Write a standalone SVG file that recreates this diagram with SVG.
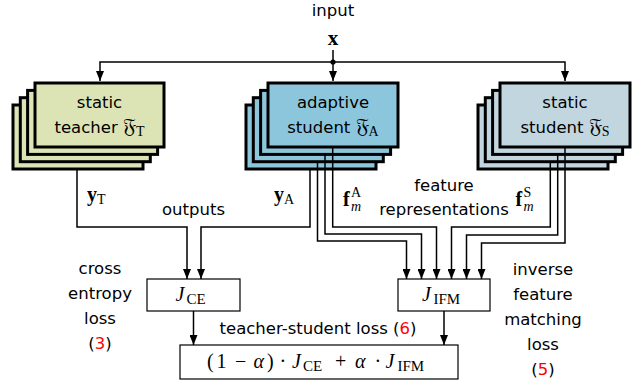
<svg xmlns="http://www.w3.org/2000/svg" width="637" height="388" viewBox="0 0 637 388">
<defs>
<style>
.t{font-family:"DejaVu Sans",sans-serif;font-size:16.5px;fill:#000}
.m{font-family:"Liberation Serif","DejaVu Serif",serif;fill:#000}
.b{font-weight:bold}
.n{font-weight:normal}
.i{font-style:italic}
.red{fill:#ff0000}
.stk{stroke:#000;stroke-width:3}
.teach{fill:#dce4b5}
.adap{fill:#8cc6dc}
.stat{fill:#c2d6df}
.loss{fill:#fff;stroke:#000;stroke-width:1.2}
.c{fill:none;stroke:#000;stroke-width:1.5}
</style>
<marker id="ah" markerUnits="userSpaceOnUse" markerWidth="10" markerHeight="8" refX="10" refY="4" orient="auto">
<path d="M0,0 L10,4 L0,8 z" fill="#000"/>
</marker>
</defs>
<rect width="637" height="388" fill="#fff"/>

<g id="input">
<text class="t" x="333" y="16" text-anchor="middle">input</text>
<text class="m b" x="333" y="45" font-size="21" text-anchor="middle">x</text>
</g>

<g id="teacher">
<rect class="stk teach" x="13" y="105" width="130" height="64"/>
<rect class="stk teach" x="20.3" y="97.7" width="130" height="64"/>
<rect class="stk teach" x="27.6" y="90.4" width="130" height="64"/>
<rect class="stk teach" x="35" y="83" width="129" height="64"/>
<text class="t" x="99.5" y="108" text-anchor="middle">static</text>
<text class="t" x="99.5" y="133" text-anchor="middle">teacher <tspan class="m" font-size="21">𝔉</tspan><tspan class="m" font-size="14" dy="3">T</tspan></text>
</g>

<g id="adaptive">
<rect class="stk adap" x="246" y="105" width="130" height="64"/>
<rect class="stk adap" x="253.3" y="97.7" width="130" height="64"/>
<rect class="stk adap" x="260.6" y="90.4" width="130" height="64"/>
<rect class="stk adap" x="268" y="83" width="130" height="64"/>
<text class="t" x="333" y="108" text-anchor="middle">adaptive</text>
<text class="t" x="333" y="133" text-anchor="middle">student <tspan class="m" font-size="21">𝔉</tspan><tspan class="m" font-size="14" dy="3">A</tspan></text>
</g>

<g id="static">
<rect class="stk stat" x="478" y="105" width="130" height="64"/>
<rect class="stk stat" x="485.3" y="97.7" width="130" height="64"/>
<rect class="stk stat" x="492.6" y="90.4" width="130" height="64"/>
<rect class="stk stat" x="500" y="83" width="130" height="64"/>
<text class="t" x="565" y="108" text-anchor="middle">static</text>
<text class="t" x="565" y="133" text-anchor="middle">student <tspan class="m" font-size="21">𝔉</tspan><tspan class="m" font-size="14" dy="3">S</tspan></text>
</g>

<g id="jce">
<rect class="loss" x="147" y="279" width="93" height="32"/>
<text class="m" y="301" font-size="20"><tspan class="i" x="175.5">J</tspan><tspan font-size="15" x="186.5" dy="3">CE</tspan></text>
</g>

<g id="jifm">
<rect class="loss" x="398" y="279" width="92" height="32"/>
<text class="m" y="301" font-size="20"><tspan class="i" x="422">J</tspan><tspan font-size="15" x="433.5" dy="3">IFM</tspan></text>
</g>

<g id="total">
<rect class="loss" x="180" y="345" width="278" height="34"/>
<text class="m" y="368" font-size="20"><tspan x="207">(</tspan><tspan x="216.5">1</tspan><tspan x="235">−</tspan><tspan class="i" x="253.5">α</tspan><tspan x="267">)</tspan><tspan x="279.5">·</tspan><tspan class="i" x="292">J</tspan><tspan font-size="15" x="303" dy="3">CE</tspan><tspan x="335" dy="-3">+</tspan><tspan class="i" x="355">α</tspan><tspan x="374.5">·</tspan><tspan class="i" x="385.5">J</tspan><tspan font-size="15" x="397.5" dy="3">IFM</tspan></text>
</g>

<g id="connectors">
<path class="c" d="M333,62 H100 V81" marker-end="url(#ah)"/>
<path class="c" d="M333,62 H565 V81" marker-end="url(#ah)"/>
<path class="c" d="M333,50 V81" marker-end="url(#ah)"/>
<circle cx="333" cy="62" r="2.6" fill="#000"/>
<path class="c" d="M77,169 V227 H187 V279" marker-end="url(#ah)"/>
<path class="c" d="M310,169 V227 H201 V279" marker-end="url(#ah)"/>
<path class="c" d="M317.5,162 V241 H406.5 V279" marker-end="url(#ah)"/>
<path class="c" d="M325,155 V234 H421.5 V279" marker-end="url(#ah)"/>
<path class="c" d="M332.7,148 V227 H436.5 V279" marker-end="url(#ah)"/>
<path class="c" d="M550.3,162 V227 H451.5 V279" marker-end="url(#ah)"/>
<path class="c" d="M557.7,155 V235 H466.5 V279" marker-end="url(#ah)"/>
<path class="c" d="M565,148 V243 H481.5 V279" marker-end="url(#ah)"/>
<path class="c" d="M193.5,311 V345" marker-end="url(#ah)"/>
<path class="c" d="M444,311 V345" marker-end="url(#ah)"/>
</g>

<g id="labels">
<text class="m b" x="87" y="201" font-size="20">y<tspan class="n" font-size="14" dy="3">T</tspan></text>
<text class="m b" x="274" y="201" font-size="20">y<tspan class="n" font-size="14" dy="3">A</tspan></text>
<text class="t" x="193.5" y="215" text-anchor="middle">outputs</text>
<text class="m b" x="343" y="206" font-size="20">f<tspan class="n" font-size="14" x="351" dy="-9">A</tspan><tspan class="n i" font-size="14" x="351" dy="14">m</tspan></text>
<text class="m b" x="515.5" y="206" font-size="20">f<tspan class="n" font-size="14" x="523.5" dy="-9">S</tspan><tspan class="n i" font-size="14" x="523.5" dy="14">m</tspan></text>
<text class="t" x="444" y="191" text-anchor="middle">feature</text>
<text class="t" x="444" y="215" text-anchor="middle">representations</text>
<text class="t" x="100" y="274" text-anchor="middle">cross</text>
<text class="t" x="100" y="299" text-anchor="middle">entropy</text>
<text class="t" x="100" y="324" text-anchor="middle">loss</text>
<text class="t" x="100" y="349" text-anchor="middle">(<tspan class="red">3</tspan>)</text>
<text class="t" x="543" y="275" text-anchor="middle">inverse</text>
<text class="t" x="543" y="300" text-anchor="middle">feature</text>
<text class="t" x="543" y="325" text-anchor="middle">matching</text>
<text class="t" x="543" y="350" text-anchor="middle">loss</text>
<text class="t" x="543" y="375" text-anchor="middle">(<tspan class="red">5</tspan>)</text>
<text class="t" x="318" y="334" text-anchor="middle">teacher-student loss (<tspan class="red">6</tspan>)</text>
</g>
</svg>
